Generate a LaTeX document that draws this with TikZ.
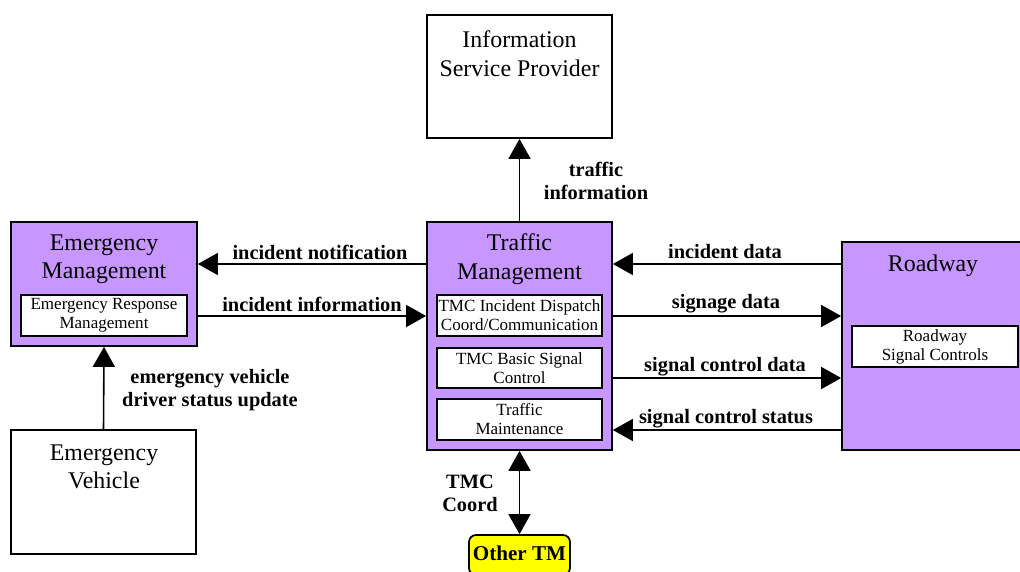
\documentclass[tikz,border=0pt]{standalone}
\usepackage{fontspec}
\setmainfont{Liberation Serif}
\usetikzlibrary{arrows.meta,positioning}

\definecolor{tmpurple}{RGB}{200,150,255}
\definecolor{tmyellow}{RGB}{255,255,0}

\tikzset{
	entity/.style={draw, line width=1pt, inner sep=0pt},
	subsys/.style={draw, fill=white, line width=1pt, inner sep=0pt, align=center,
		minimum height=0.82cm, font=\fontsize{9.7}{10.8}\selectfont},
	title/.style={align=center, inner sep=0pt, font=\fontsize{13.6}{16.2}\selectfont},
	lbl/.style={align=center, inner sep=0pt, font=\fontsize{11.6}{13}\selectfont\bfseries},
	flow/.style={line width=0.9pt, -{Triangle[length=0.4cm, width=0.44cm]}},
	biflow/.style={line width=0.9pt, {Triangle[length=0.4cm, width=0.44cm]}-{Triangle[length=0.4cm, width=0.44cm]}},
}

\begin{document}
\begin{tikzpicture}[x=0.02cm, y=-0.02cm]
		\useasboundingbox (0,0) rectangle (1020,571);
		% boxes
		\node[entity, minimum width=3.7cm, minimum height=2.46cm] (isp) at (519.5, 76.5) {};
		\node[entity, fill=tmpurple, minimum width=3.72cm, minimum height=2.48cm] (em) at (104, 284) {};
		\node[entity, fill=tmpurple, minimum width=3.7cm, minimum height=4.56cm] (tm) at (519.5, 336) {};
		\node[entity, fill=tmpurple, minimum width=3.64cm, minimum height=4.16cm] (rw) at (933, 346) {};
		\node[entity, minimum width=3.7cm, minimum height=2.48cm] (ev) at (103.5, 492) {};
		\node[entity, fill=tmyellow, rounded corners=4pt, minimum width=2.02cm, minimum height=0.8cm] (otm) at (519.5, 555) {};
		% titles
		\node[title] (ispt) at (519.5, 53.5) {Information\\Service Provider};
		\node[title] (emt) at (104, 259) {Emergency\\Management};
		\node[title] (tmt) at (519.5, 259) {Traffic\\Management};
		\node[title] (rwt) at (933, 266) {Roadway};
		\node[title] (evt) at (104, 467) {Emergency\\Vehicle};
		\node[lbl, font=\fontsize{12}{14}\selectfont\bfseries] (otmt) at (519.5, 553) {Other TM};
		% subsystems
		\node[subsys, minimum width=3.32cm] (erm) at (104, 315.5) {Emergency Response\\Management};
		\node[subsys, minimum width=3.3cm] (tmc1) at (519.5, 315.5) {TMC Incident Dispatch\\Coord/Communication};
		\node[subsys, minimum width=3.3cm, minimum height=0.8cm] (tmc2) at (519.5, 368) {TMC Basic Signal\\Control};
		\node[subsys, minimum width=3.3cm] (tmc3) at (519.5, 419.5) {Traffic\\Maintenance};
		\node[subsys, minimum width=3.32cm] (rsc) at (935, 346.5) {Roadway\\Signal Controls};
		% flow heights
		\coordinate (ynotif) at (0, 264);
		\coordinate (yinfo) at (0, 316);
		\coordinate (ysigd) at (0, 378);
		\coordinate (ysigs) at (0, 430);
		% flows
		\draw[flow] (tm.north) -- (isp.south);
		\draw[flow] (tm.west |- ynotif) -- (em.east |- ynotif);
		\draw[flow] (em.east |- yinfo) -- (tm.west |- yinfo);
		\draw[flow] (ev.north) -- (em.south);
		\draw[flow] (rw.west |- ynotif) -- (tm.east |- ynotif);
		\draw[flow] (tm.east |- yinfo) -- (rw.west |- yinfo);
		\draw[flow] (tm.east |- ysigd) -- (rw.west |- ysigd);
		\draw[flow] (rw.west |- ysigs) -- (tm.east |- ysigs);
		\draw[biflow] (tm.south) -- (otm.north);
		% flow labels
		\node[lbl] (ltinfo) at (596, 181) {traffic\\information};
		\node[lbl] (lnotif) at (320, 252) {incident notification};
		\node[lbl] (linfo) at (312, 304) {incident information};
		\node[lbl] (levdsu) at (210, 390) {emergency vehicle\\driver status update};
		\node[lbl] (lidata) at (725, 252) {incident data};
		\node[lbl] (lsign) at (726, 304) {signage data};
		\node[lbl] (lsigd) at (725, 367) {signal control data};
		\node[lbl] (lsigs) at (726, 419) {signal control status};
		\node[lbl] (lcoord) at (470, 493) {TMC\\Coord};
		\end{tikzpicture}
\end{document}
